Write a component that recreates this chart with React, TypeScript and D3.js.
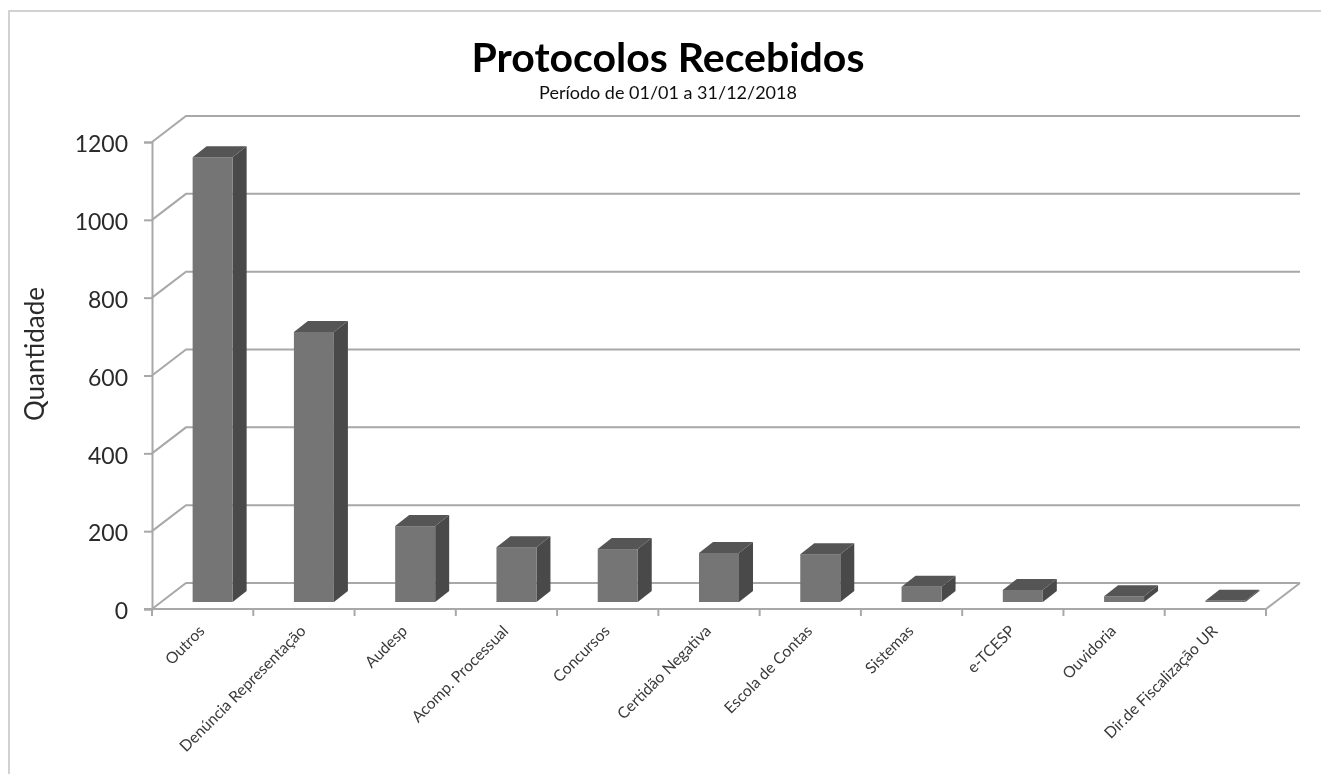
import { useEffect, useRef } from 'react';
import * as d3 from 'd3';

const categories = [
  'Outros',
  'Denúncia Representação',
  'Audesp',
  'Acomp. Processual',
  'Concursos',
  'Certidão Negativa',
  'Escola de Contas',
  'Sistemas',
  'e-TCESP',
  'Ouvidoria',
  'Dir.de Fiscalização UR',
];
const quantities = [1143, 694, 195, 141, 136, 126, 123, 39, 31, 15, 3];
const yTicks = [0, 200, 400, 600, 800, 1000, 1200];

const FONT = 'Lato, "Open Sans", sans-serif';
const GRID = '#a8a8a8';

export default function App() {
  const svgRef = useRef<SVGSVGElement>(null);

  useEffect(() => {
    if (!svgRef.current) return;
    const svg = d3.select(svgRef.current);
    svg.selectAll('*').remove();

    const defs = svg.append('defs');
    defs
      .append('filter')
      .attr('id', 'soft')
      .append('feGaussianBlur')
      .attr('stdDeviation', 0.55);

    const g = svg.append('g').attr('filter', 'url(#soft)');

    // Chart frame, open on the right and the bottom like the source
    g.append('path')
      .attr('d', 'M9,774 L9,11 L1321,11')
      .attr('fill', 'none')
      .attr('stroke', '#c4c4c4')
      .attr('stroke-width', 1.5);

    const left = 152;
    const right = 1266;
    const y0 = 609;
    const y1200 = 142;
    const depthX = 34;
    const depthY = 26;
    // bars stand a little behind the front plane of the floor
    const gapX = 10;
    const gapY = 7;
    const barDX = 14;
    const barDY = 11;

    const xScale = d3.scaleBand<string>().domain(categories).range([left, right]);
    const yScale = d3.scaleLinear().domain([0, 1200]).range([y0, y1200]);

    // Side wall + back wall gridlines
    yTicks.forEach((t) => {
      const y = yScale(t);
      g.append('path')
        .attr('d', `M${left},${y} L${left + depthX},${y - depthY} L${right + depthX},${y - depthY}`)
        .attr('fill', 'none')
        .attr('stroke', GRID)
        .attr('stroke-width', 2);
    });

    // Floor edge on the right
    g.append('line')
      .attr('x1', right)
      .attr('y1', y0)
      .attr('x2', right + depthX)
      .attr('y2', y0 - depthY)
      .attr('stroke', GRID)
      .attr('stroke-width', 2);

    // Axes
    const yAxisG = g
      .append('g')
      .attr('transform', `translate(${left},0)`)
      .call(
        d3
          .axisLeft(yScale)
          .tickValues(yTicks)
          .tickFormat(d3.format('d'))
          .tickSize(8)
          .tickPadding(16),
      );
    yAxisG.selectAll('.domain').attr('stroke', GRID).attr('stroke-width', 2);
    yAxisG.selectAll('.tick line').attr('stroke', GRID).attr('stroke-width', 2);
    yAxisG
      .selectAll('text')
      .attr('dy', '0.42em')
      .attr('fill', '#2b2b2b')
      .attr('font-family', FONT)
      .attr('font-size', '23px');

    g.append('line')
      .attr('x1', left - 8)
      .attr('x2', right)
      .attr('y1', y0)
      .attr('y2', y0)
      .attr('stroke', GRID)
      .attr('stroke-width', 2);

    // Tick marks sit between the categories
    d3.range(categories.length + 1).forEach((i) => {
      const x = left + i * xScale.step();
      g.append('line')
        .attr('x1', x)
        .attr('x2', x)
        .attr('y1', y0)
        .attr('y2', y0 + 7)
        .attr('stroke', GRID)
        .attr('stroke-width', 2);
    });

    // Bars
    const barW = 40;
    categories.forEach((name, i) => {
      const value = quantities[i];
      const x = (xScale(name) ?? 0) + xScale.step() / 2 - barW / 2 + gapX;
      const bottom = y0 - gapY;
      const top = yScale(value) - gapY;

      g.append('path')
        .attr('d', `M${x + barW},${top} L${x + barW + barDX},${top - barDY} L${x + barW + barDX},${bottom - barDY} L${x + barW},${bottom}Z`)
        .attr('fill', '#484848');
      g.append('path')
        .attr('d', `M${x},${top} L${x + barDX},${top - barDY} L${x + barW + barDX},${top - barDY} L${x + barW},${top}Z`)
        .attr('fill', '#545454');
      g.append('rect')
        .attr('x', x)
        .attr('y', top)
        .attr('width', barW)
        .attr('height', bottom - top)
        .attr('fill', '#747474');
    });

    // Category labels
    categories.forEach((name) => {
      const x = (xScale(name) ?? 0) + xScale.step() / 2;
      g.append('text')
        .attr('transform', `translate(${x + 3},${y0 + 23}) rotate(-45)`)
        .attr('text-anchor', 'end')
        .attr('fill', '#3a3a3a')
        .attr('font-family', FONT)
        .attr('font-size', '15.7px')
        .text(name);
    });

    // Titles
    g.append('text')
      .attr('x', 668)
      .attr('y', 72)
      .attr('text-anchor', 'middle')
      .attr('fill', '#000')
      .attr('font-family', FONT)
      .attr('font-weight', 700)
      .attr('font-size', '41px')
      .text('Protocolos Recebidos');
    g.append('text')
      .attr('x', 668)
      .attr('y', 99)
      .attr('text-anchor', 'middle')
      .attr('fill', '#111')
      .attr('font-family', FONT)
      .attr('font-size', '18px')
      .text('Período de 01/01 a 31/12/2018');

    g.append('text')
      .attr('transform', 'translate(44,354) rotate(-90)')
      .attr('text-anchor', 'middle')
      .attr('fill', '#2b2b2b')
      .attr('font-family', FONT)
      .attr('font-size', '26px')
      .text('Quantidade');
  }, []);

  return (
    <svg
      ref={svgRef}
      width={1321}
      height={774}
      style={{ position: 'absolute', left: 0, top: 0, display: 'block', background: '#fff' }}
    />
  );
}
